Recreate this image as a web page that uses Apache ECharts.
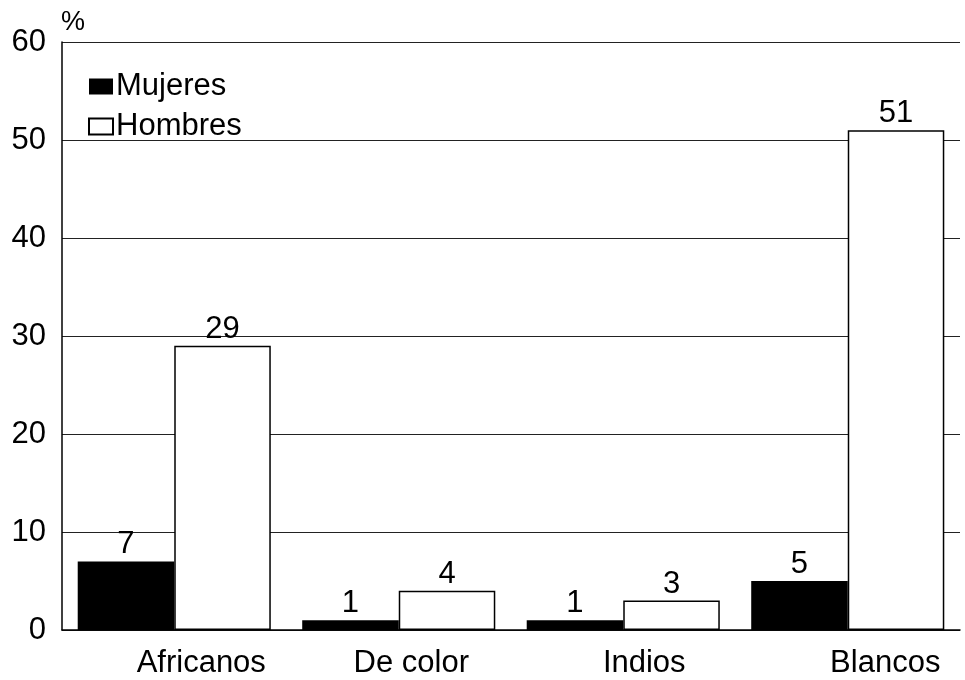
<!DOCTYPE html>
<html>
<head>
<meta charset="utf-8">
<script src="https://cdn.jsdelivr.net/npm/echarts@6/dist/echarts.min.js"></script>
<style>
  html, body { margin: 0; padding: 0; background: #fff; }
  #chart { width: 965px; height: 680px; }
</style>
</head>
<body>
<div id="chart"></div>
<script>
var categories = ["Africanos", "De color", "Indios", "Blancos"];
var mujeres = [7, 1, 1, 5];
var hombres = [29, 4, 3, 51];
var yTicks = [0, 10, 20, 30, 40, 50, 60];

// label nudges to mimic the original placement
var labelShift = [54, 25, 42, 75];

var chart = echarts.init(document.getElementById("chart"));
var font = "'Liberation Sans', Arial, sans-serif";

chart.setOption({
  backgroundColor: "#fff",
  animation: false,
  textStyle: { fontFamily: font },
  grid: { left: 62, right: 5, top: 42, bottom: 50, containLabel: false },
  legend: {
    orient: "vertical",
    left: 88,
    top: 71,
    padding: 0,
    itemWidth: 24,
    itemHeight: 16,
    itemGap: 9,
    icon: "rect",
    textStyle: { fontSize: 31, color: "#000", fontFamily: font, padding: [0, 0, 0, -2] },
    data: ["Mujeres", "Hombres"]
  },
  graphic: [{
    type: "text",
    left: 61,
    top: 9,
    style: { text: "%", fontSize: 27, fill: "#000", fontFamily: font }
  }],
  xAxis: {
    type: "category",
    data: categories.map(function (c, i) {
      return { value: c, textStyle: { padding: [0, 0, 0, labelShift[i]] } };
    }),
    axisLine: { show: true, lineStyle: { color: "#000", width: 1.5 } },
    axisTick: { show: false },
    axisLabel: { fontSize: 31, color: "#000", margin: 18, fontFamily: font }
  },
  yAxis: {
    type: "value",
    min: yTicks[0],
    max: yTicks[yTicks.length - 1],
    interval: 10,
    axisLine: { show: true, lineStyle: { color: "#000", width: 1.5 } },
    axisTick: { show: false },
    axisLabel: { fontSize: 31, color: "#000", margin: 16, fontFamily: font },
    splitLine: { show: true, lineStyle: { color: "#222", width: 1 } }
  },
  series: [
    {
      name: "Mujeres",
      type: "bar",
      data: mujeres,
      barGap: "0%",
      barCategoryGap: "14%",
      itemStyle: { color: "#000" },
      label: { show: true, position: "top", distance: 1, fontSize: 31, color: "#000", fontFamily: font }
    },
    {
      name: "Hombres",
      type: "bar",
      data: hombres,
      itemStyle: { color: "#fff", borderColor: "#000", borderWidth: 1.5 },
      label: { show: true, position: "top", distance: 1, fontSize: 31, color: "#000", fontFamily: font }
    }
  ]
});
</script>
</body>
</html>
